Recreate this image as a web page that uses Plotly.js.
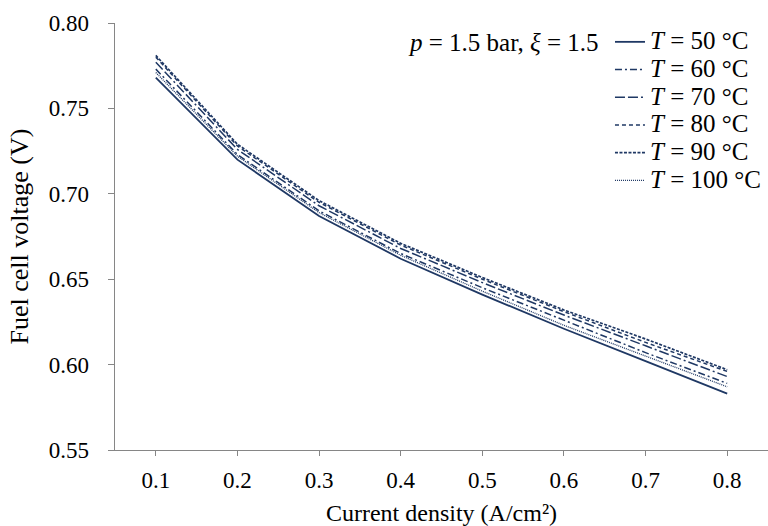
<!DOCTYPE html>
<html>
<head>
<meta charset="utf-8">
<script src="https://cdn.plot.ly/plotly-3.0.1.min.js"></script>
<style>html,body{margin:0;padding:0;background:#fff;}#chart{width:768px;height:526px;}</style>
</head>
<body>
<div id="chart"></div>
<script>
const currentDensity = [0.1, 0.2, 0.3, 0.4, 0.5, 0.6, 0.7, 0.8];
const seriesNames = ["<i>T</i> = 50 °C", "<i>T</i> = 60 °C", "<i>T</i> = 70 °C", "<i>T</i> = 80 °C", "<i>T</i> = 90 °C", "<i>T</i> = 100 °C"];
const v50  = [0.768, 0.720, 0.687, 0.662, 0.641, 0.621, 0.602, 0.583];
const v60  = [0.773, 0.723, 0.690, 0.665, 0.645, 0.626, 0.607, 0.589];
const v70  = [0.777, 0.726, 0.693, 0.668, 0.648, 0.629, 0.611, 0.593];
const v80  = [0.780, 0.728, 0.695, 0.670, 0.650, 0.631, 0.613, 0.596];
const v90  = [0.781, 0.729, 0.696, 0.671, 0.651, 0.632, 0.615, 0.597];
const v100 = [0.771, 0.722, 0.689, 0.664, 0.643, 0.623, 0.605, 0.587];
const xTickVals = [0.1, 0.2, 0.3, 0.4, 0.5, 0.6, 0.7, 0.8];
const xTickText = ["0.1", "0.2", "0.3", "0.4", "0.5", "0.6", "0.7", "0.8"];
const yTickVals = [0.55, 0.60, 0.65, 0.70, 0.75, 0.80];
const yTickText = ["0.55", "0.60", "0.65", "0.70", "0.75", "0.80"];

const allSeries = [v50, v60, v70, v80, v90, v100];
const dashes = ["solid", "7px,3px,2px,3px", "10px,3px,10px,3px,2px,3px", "4px,3px", "3px,1.5px", "1px,1px"];
const widths = [1.8, 1.5, 1.5, 1.5, 1.7, 1.3];
const color = "#1F3864";
const FONT = "Liberation Serif";

const traces = allSeries.map((ys, i) => ({
  x: currentDensity, y: ys, type: "scatter", mode: "lines",
  name: "<span style='font-size:25px'>" + seriesNames[i] + "</span>",
  line: {color: color, width: widths[i], dash: dashes[i]}
}));

const layout = {
  width: 768, height: 526,
  margin: {l: 115, r: 0, t: 23, b: 76},
  paper_bgcolor: "#fff", plot_bgcolor: "#fff",
  font: {family: FONT, size: 20, color: "#000"},
  showlegend: true,
  legend: {x: 0.758, xanchor: "left", y: 1.0, yanchor: "top", bgcolor: "rgba(0,0,0,0)",
           font: {family: FONT, size: 19, color: "#000"}, tracegroupgap: 0},
  xaxis: {range: [0.05, 0.85], tickvals: xTickVals, ticktext: xTickText,
          showgrid: false, zeroline: false, showline: true, linecolor: "#868686", linewidth: 1.3,
          ticks: "outside", ticklen: 5, tickcolor: "#868686", ticklabelstandoff: 4,
          tickfont: {family: FONT, size: 23, color: "#000"},
          title: {text: "Current density (A/cm²)", font: {family: FONT, size: 24, color: "#000"}, standoff: 12}},
  yaxis: {range: [0.55, 0.80], tickvals: yTickVals, ticktext: yTickText,
          showgrid: false, zeroline: false, showline: true, linecolor: "#868686", linewidth: 1.3,
          ticks: "outside", ticklen: 6, tickcolor: "#868686", ticklabelstandoff: 14,
          tickfont: {family: FONT, size: 23, color: "#000"},
          title: {text: "Fuel cell voltage (V)", font: {family: FONT, size: 26, color: "#000"}, standoff: 12}},
  annotations: [{xref: "paper", yref: "paper", x: 0.745, y: 0.955, xanchor: "right", yanchor: "middle",
                 showarrow: false, text: "<i>p</i> = 1.5 bar, <i>ξ</i> = 1.5", font: {family: FONT, size: 25, color: "#000"}}]
};
Plotly.newPlot("chart", traces, layout, {displayModeBar: false, staticPlot: true});
</script>
</body>
</html>
